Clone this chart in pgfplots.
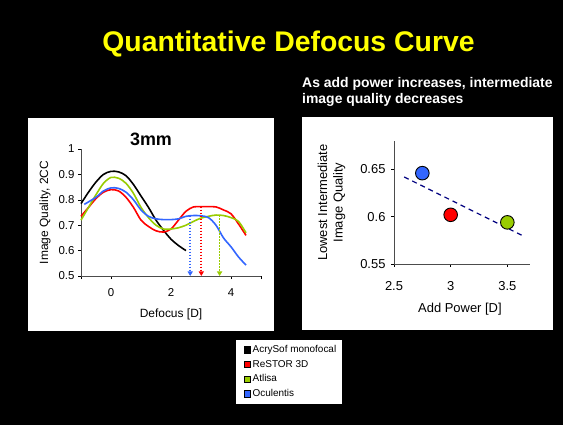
\documentclass[border=0pt]{standalone}
\usepackage{fontspec}
\setmainfont{Liberation Sans}
\usepackage{pgfplots}
\pgfplotsset{compat=1.18}
\usetikzlibrary{arrows.meta}
\definecolor{cblue}{RGB}{51,102,255}
\definecolor{cgreen}{RGB}{153,204,0}
\definecolor{cred}{RGB}{255,0,0}
\definecolor{cnavy}{RGB}{0,0,128}
\definecolor{cyellow}{RGB}{255,255,0}
\pgfplotsset{
  legsq/.style={legend image code/.code={\path (0bp,0bp); \draw[black,fill=#1,line width=0.4bp] (4.5bp,-3.2bp) rectangle (10.9bp,3.2bp);}},
}
\begin{document}
\begin{tikzpicture}
\fill[black] (0,0) rectangle (563bp,425bp);
\fill[white] (28bp,94bp) rectangle (274bp,307bp);
\fill[white] (302bp,95bp) rectangle (553bp,308bp);
\node[anchor=base,text=cyellow,font=\fontsize{28.5}{32}\selectfont\bfseries,inner sep=0pt] at (288.5bp,373bp) {Quantitative Defocus Curve};
\node[anchor=base,text=black,font=\fontsize{18}{21}\selectfont\bfseries,inner sep=0pt] at (151bp,279.5bp) {3mm};
\node[anchor=base west,text=white,font=\fontsize{14}{16}\selectfont\bfseries,inner sep=0pt] at (302bp,337.7bp) {As add power increases, intermediate};
\node[anchor=base west,text=white,font=\fontsize{14}{16}\selectfont\bfseries,inner sep=0pt] at (302bp,321.7bp) {image quality decreases};

\begin{axis}[
  at={(81bp,149bp)}, anchor=south west, scale only axis, width=180bp, height=127bp,
  xmin=-1, xmax=5, ymin=0.5, ymax=1,
  axis lines*=left,
  xtick={-1,0,2,4,5}, xticklabels={,0,2,4,},
  ytick={0.5,0.6,0.7,0.8,0.9,1},
  tick align=outside, major tick length=3bp,
  every tick/.style={black, line width=0.6bp},
  axis line style={black!70, line width=0.8bp},
  tick label style={font=\fontsize{11.5}{13}\selectfont},
  xticklabel style={yshift=-6bp},
  /pgf/number format/assume math mode=true,
  xlabel={Defocus [D]}, ylabel={Image Quality, 2CC},
  label style={font=\fontsize{12}{14}\selectfont},
  xlabel style={at={(axis description cs:0.5,-0.30)}, anchor=center},
  ylabel style={at={(axis description cs:-0.2,0.5)}, anchor=center},
  clip=false,
  legend style={at={(axis description cs:0.8556,-0.498)}, anchor=north west, draw=black, line width=0.5bp,
    font=\fontsize{10}{12}\selectfont, inner xsep=3.5bp, inner ysep=3.8bp, row sep=2.1bp,
    /tikz/every even column/.append style={column sep=2bp}},
  legend cell align=left,
]
\addplot[black, line width=1.6bp, smooth, legsq=black] coordinates {
(-1,0.785) (-0.75,0.83) (-0.5,0.87) (-0.25,0.9) (0,0.912) (0.25,0.91) (0.5,0.895) (0.75,0.86) (1,0.815) (1.25,0.77) (1.5,0.72) (1.75,0.68) (2,0.645) (2.25,0.62) (2.5,0.6)};
\addlegendentry{AcrySof monofocal}
\addplot[cred, line width=1.6bp, smooth, legsq=cred] coordinates {
(-1,0.735) (-0.75,0.77) (-0.5,0.805) (-0.25,0.83) (0,0.84) (0.25,0.835) (0.5,0.81) (0.75,0.77) (1,0.72) (1.25,0.695) (1.5,0.678) (1.75,0.673) (2,0.685) (2.25,0.72) (2.5,0.755) (2.75,0.772) (3,0.773) (3.25,0.773) (3.5,0.772) (3.75,0.76) (4,0.745) (4.25,0.705) (4.5,0.66)};
\addlegendentry{ReSTOR 3D}
\addplot[cgreen, line width=1.6bp, smooth, legsq=cgreen] coordinates {
(-1,0.72) (-0.75,0.77) (-0.5,0.82) (-0.25,0.865) (0,0.888) (0.25,0.885) (0.5,0.865) (0.75,0.825) (1,0.77) (1.25,0.73) (1.5,0.7) (1.75,0.685) (2,0.685) (2.25,0.69) (2.5,0.7) (2.75,0.715) (3,0.728) (3.25,0.735) (3.5,0.74) (3.75,0.738) (4,0.73) (4.25,0.715) (4.5,0.67)};
\addlegendentry{Atlisa}
\addplot[cblue, line width=1.6bp, smooth, legsq=cblue] coordinates {
(-0.89,0.782) (-0.5,0.81) (-0.25,0.835) (0,0.847) (0.25,0.845) (0.5,0.83) (0.75,0.8) (1,0.76) (1.25,0.735) (1.5,0.725) (1.75,0.722) (2,0.722) (2.25,0.725) (2.5,0.735) (2.75,0.738) (3,0.737) (3.25,0.73) (3.5,0.7) (3.75,0.65) (4,0.615) (4.25,0.575) (4.5,0.543)};
\addlegendentry{Oculentis}
\addplot[forget plot, cblue, dash pattern=on 1.6bp off 1.4bp, line width=1.6bp, -{Triangle[width=5bp,length=4.5bp]}] coordinates {(2.64,0.738) (2.64,0.5)};
\addplot[forget plot, cred, dash pattern=on 1.6bp off 1.4bp, line width=1.6bp, -{Triangle[width=5bp,length=4.5bp]}] coordinates {(3.01,0.773) (3.01,0.5)};
\addplot[forget plot, cgreen, dash pattern=on 1.6bp off 1.4bp, line width=1.6bp, -{Triangle[width=5bp,length=4.5bp]}] coordinates {(3.62,0.74) (3.62,0.5)};
\end{axis}

\begin{axis}[
  at={(394bp,161bp)}, anchor=south west, scale only axis, width=136bp, height=123bp,
  xmin=2.5, xmax=3.7, ymin=0.55, ymax=0.68,
  axis lines*=left,
  xtick={2.5,3,3.5}, ytick={0.55,0.6,0.65},
  tick align=outside, major tick length=3bp,
  every tick/.style={black, line width=0.6bp},
  axis line style={black!70, line width=0.8bp},
  tick label style={font=\fontsize{13}{15}\selectfont},
  xticklabel style={yshift=-11bp},
  yticklabel style={xshift=-2bp},
  /pgf/number format/assume math mode=true,
  /pgf/number format/fixed,
  xlabel={Add Power [D]}, ylabel={Lowest Intermediate\\Image Quality},
  label style={font=\fontsize{13}{15.5}\selectfont},
  xlabel style={at={(axis description cs:0.485,-0.366)}, anchor=center},
  ylabel style={at={(axis description cs:-0.46,0.5)}, anchor=center, align=center},
  clip=false,
]
\addplot[cnavy, line width=1.2bp, dash pattern=on 5bp off 4bp] coordinates {(2.59,0.642) (3.65,0.579)};
\addplot[only marks, mark=*, mark size=6.8bp, mark options={draw=black, fill=cblue, line width=0.9bp}] coordinates {(2.75,0.646)};
\addplot[only marks, mark=*, mark size=6.8bp, mark options={draw=black, fill=cred, line width=0.9bp}] coordinates {(3.0,0.602)};
\addplot[only marks, mark=*, mark size=6.8bp, mark options={draw=black, fill=cgreen, line width=0.9bp}] coordinates {(3.5,0.594)};
\end{axis}
\pgfresetboundingbox
\useasboundingbox (0,0) rectangle (563bp,425bp);
\end{tikzpicture}
\end{document}
